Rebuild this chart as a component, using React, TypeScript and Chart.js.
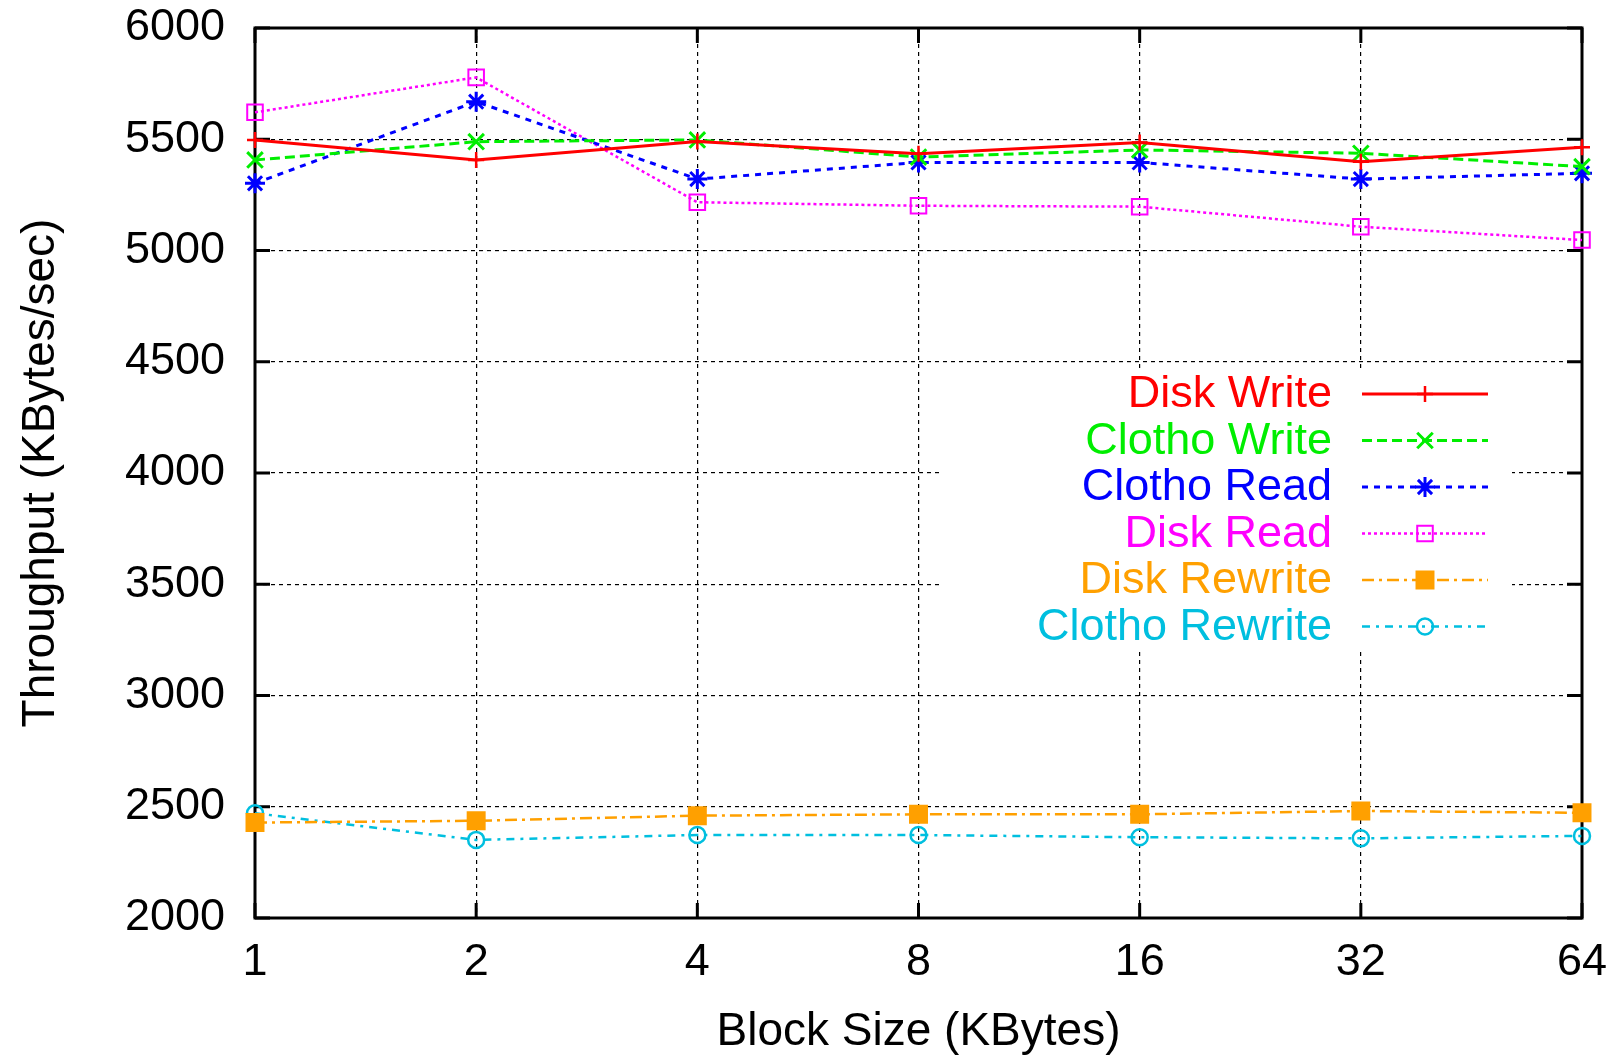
import React, { useEffect, useRef } from 'react';
import { Chart, registerables } from 'chart.js';

Chart.register(...registerables);

// ---------- data ----------
const blockSizes = ['1', '2', '4', '8', '16', '32', '64'];
const diskWrite = [5497, 5407, 5490, 5435, 5485, 5399, 5464];
const clothoWrite = [5407, 5489, 5497, 5420, 5452, 5437, 5377];
const clothoRead = [5302, 5669, 5321, 5396, 5396, 5321, 5347];
const diskRead = [5621, 5778, 5217, 5201, 5197, 5107, 5047];
const diskRewrite = [2429, 2437, 2460, 2466, 2466, 2481, 2473];
const clothoRewrite = [2471, 2351, 2373, 2373, 2363, 2358, 2369];
const yMin = 2000;
const yMax = 6000;
const yStep = 500;
const xTitle = 'Block Size (KBytes)';
const yTitle = 'Throughput (KBytes/sec)';

// ---------- styles ----------
const W = 1622;
const H = 1060;
const FONT = '"Liberation Sans", Arial, Helvetica, sans-serif';

type SeriesStyle = {
  label: string;
  data: number[];
  color: string;
  dash: number[];
  width: number;
  marker: 'cross' | 'crossRot' | 'star' | 'rect' | 'circle';
  radius: number;
  filled: boolean;
  mWidth: number;
};

const series: SeriesStyle[] = [
  { label: 'Disk Write', data: diskWrite, color: '#ff0000', dash: [], width: 3, marker: 'cross', radius: 8, filled: false, mWidth: 2.5 },
  { label: 'Clotho Write', data: clothoWrite, color: '#00ee00', dash: [10, 5], width: 3, marker: 'crossRot', radius: 11, filled: false, mWidth: 3 },
  { label: 'Clotho Read', data: clothoRead, color: '#0000ff', dash: [6, 6], width: 3, marker: 'star', radius: 10, filled: false, mWidth: 3 },
  { label: 'Disk Read', data: diskRead, color: '#ff00ff', dash: [3, 3], width: 2.5, marker: 'rect', radius: 11, filled: false, mWidth: 2 },
  { label: 'Disk Rewrite', data: diskRewrite, color: '#ffa000', dash: [12, 5, 3, 5], width: 2.5, marker: 'rect', radius: 12, filled: true, mWidth: 2 },
  { label: 'Clotho Rewrite', data: clothoRewrite, color: '#00bfdf', dash: [8, 6, 3, 6], width: 2.5, marker: 'circle', radius: 8, filled: false, mWidth: 2.5 },
];

function drawMarker(ctx: CanvasRenderingContext2D, s: SeriesStyle, x: number, y: number) {
  const r = s.radius;
  ctx.save();
  ctx.setLineDash([]);
  ctx.strokeStyle = s.color;
  ctx.fillStyle = s.color;
  ctx.lineWidth = s.mWidth;
  ctx.beginPath();
  const d = r * Math.SQRT1_2;
  if (s.marker === 'cross' || s.marker === 'star') {
    ctx.moveTo(x - r, y); ctx.lineTo(x + r, y);
    ctx.moveTo(x, y - r); ctx.lineTo(x, y + r);
  }
  if (s.marker === 'crossRot' || s.marker === 'star') {
    ctx.moveTo(x - d, y - d); ctx.lineTo(x + d, y + d);
    ctx.moveTo(x - d, y + d); ctx.lineTo(x + d, y - d);
  }
  if (s.marker === 'rect') {
    ctx.rect(x - d, y - d, 2 * d, 2 * d);
    if (s.filled) ctx.fill();
  }
  if (s.marker === 'circle') {
    ctx.arc(x, y, r, 0, Math.PI * 2);
    if (s.filled) ctx.fill();
  }
  ctx.stroke();
  ctx.restore();
}

const framePlugin = {
  id: 'gnuFrame',
  beforeDatasetsDraw(chart: any) {
    const { ctx, chartArea: a, scales } = chart;
    const xs = scales.x;
    const ys = scales.y;
    const tl = 15;
    ctx.save();
    ctx.setLineDash([]);
    ctx.strokeStyle = '#000';
    ctx.lineWidth = 3;
    ctx.beginPath();
    ys.ticks.forEach((_t: any, i: number) => {
      const py = ys.getPixelForTick(i);
      ctx.moveTo(a.left, py); ctx.lineTo(a.left + tl, py);
      ctx.moveTo(a.right, py); ctx.lineTo(a.right - tl, py);
    });
    xs.ticks.forEach((_t: any, i: number) => {
      const px = xs.getPixelForTick(i);
      ctx.moveTo(px, a.bottom); ctx.lineTo(px, a.bottom - tl);
      ctx.moveTo(px, a.top); ctx.lineTo(px, a.top + tl);
    });
    ctx.stroke();
    ctx.strokeRect(a.left, a.top, a.right - a.left, a.bottom - a.top);

    // legend box (covers grid)
    ctx.fillStyle = '#ffffff';
    ctx.fillRect(941, 368, 571, 283);
    ctx.restore();
  },
  afterDatasetsDraw(chart: any) {
    const { ctx } = chart;
    ctx.save();
    ctx.font = `45px ${FONT}`;
    ctx.textAlign = 'right';
    ctx.textBaseline = 'middle';
    series.forEach((s, i) => {
      const y = 394 + i * 46.5;
      ctx.fillStyle = s.color;
      ctx.fillText(s.label, 1332, y + 1);
      ctx.strokeStyle = s.color;
      ctx.lineWidth = s.width;
      ctx.setLineDash(s.dash);
      ctx.beginPath();
      ctx.moveTo(1362, y);
      ctx.lineTo(1488, y);
      ctx.stroke();
      drawMarker(ctx, s, 1425, y);
    });
    ctx.restore();
  },
};

export default function App() {
  const ref = useRef<HTMLCanvasElement | null>(null);

  useEffect(() => {
    if (!ref.current) return;
    const chart = new Chart(ref.current, {
      type: 'line',
      data: {
        labels: blockSizes,
        datasets: series.map((s) => ({
          label: s.label,
          data: s.data,
          borderColor: s.color,
          backgroundColor: s.color,
          borderWidth: s.width,
          borderDash: s.dash,
          fill: false,
          tension: 0,
          pointStyle: s.marker,
          pointRadius: s.radius,
          pointHoverRadius: s.radius,
          pointBorderWidth: s.mWidth,
          pointBorderColor: s.color,
          pointBackgroundColor: s.filled ? s.color : 'rgba(0,0,0,0)',
          clip: false as any,
        })),
      },
      options: {
        responsive: false,
        animation: false,
        events: [],
        layout: { padding: { top: 28, right: 40, left: 0, bottom: 0 } },
        plugins: {
          legend: { display: false },
          tooltip: { enabled: false },
          title: { display: false },
        },
        scales: {
          x: {
            type: 'category',
            offset: false,
            grid: {
              display: true,
              color: '#000',
              lineWidth: 1.2,
              drawTicks: false,
            },
            border: { display: false, dash: [4, 4] },
            ticks: {
              color: '#000',
              font: { family: FONT, size: 45 },
              padding: 18,
              maxRotation: 0,
              autoSkip: false,
            },
            title: {
              display: true,
              text: xTitle,
              color: '#000',
              font: { family: FONT, size: 46 },
              padding: { top: 0, bottom: 0 },
            },
            afterFit(scale: any) {
              scale.height = 142;
              scale.paddingLeft = 0;
              scale.paddingRight = 0;
            },
          },
          y: {
            type: 'linear',
            min: yMin,
            max: yMax,
            grid: {
              display: true,
              color: '#000',
              lineWidth: 1.2,
              drawTicks: false,
            },
            border: { display: false, dash: [4, 4] },
            ticks: {
              stepSize: yStep,
              color: '#000',
              font: { family: FONT, size: 45 },
              padding: 30,
              callback: (v: any) => String(v),
            },
            title: {
              display: true,
              text: yTitle,
              color: '#000',
              font: { family: FONT, size: 46 },
              padding: { top: 14, bottom: 0 },
            },
            afterFit(scale: any) {
              scale.width = 255;
              scale.paddingTop = 0;
              scale.paddingBottom = 0;
            },
          },
        },
      },
      plugins: [framePlugin],
    });
    return () => chart.destroy();
  }, []);

  return (
    <div style={{ position: 'fixed', left: 0, top: 0, width: W, height: H, background: '#fff' }}>
      <canvas ref={ref} width={W} height={H} style={{ display: 'block', width: W, height: H }} />
    </div>
  );
}
